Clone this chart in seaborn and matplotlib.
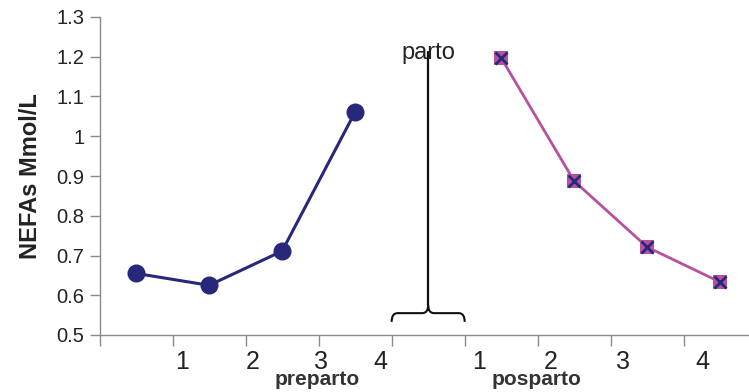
import matplotlib
matplotlib.use("Agg")
import matplotlib.pyplot as plt
from matplotlib.path import Path
from matplotlib.patches import PathPatch
import numpy as np
import pandas as pd
import seaborn as sns

# Weekly NEFA means around calving
preparto_weeks = [1, 2, 3, 4]
preparto_nefa = [0.655, 0.625, 0.711, 1.061]
posparto_weeks = [1, 2, 3, 4]
posparto_nefa = [1.197, 0.887, 0.721, 0.633]
week_labels = ["1", "2", "3", "4", "1", "2", "3", "4"]
y_ticks = [0.5, 0.6, 0.7, 0.8, 0.9, 1.0, 1.1, 1.2, 1.3]
y_tick_labels = ["0.5", "0.6", "0.7", "0.8", "0.9", "1", "1.1", "1.2", "1.3"]

NAVY = "#27287a"
PINK = "#b6509f"
SPINE = "#8a8a8a"

sns.set_theme(style="white")
plt.rcParams["font.family"] = ["Liberation Sans", "DejaVu Sans"]

# category slots: 0-3 preparto, 4 = calving gap, 5-8 posparto
pre_df = pd.DataFrame({"slot": [w - 1 for w in preparto_weeks], "nefa": preparto_nefa})
pos_df = pd.DataFrame({"slot": [w + 4 for w in posparto_weeks], "nefa": posparto_nefa})

fig = plt.figure(figsize=(7.49, 3.92), dpi=100)
ax = fig.add_axes([99.5 / 749, 57 / 392, 650 / 749, 318 / 392])

sns.lineplot(data=pre_df, x="slot", y="nefa", ax=ax, color=NAVY, linewidth=2.2,
             marker="o", markersize=13, markeredgecolor=NAVY, markeredgewidth=0)
sns.lineplot(data=pos_df, x="slot", y="nefa", ax=ax, color=PINK, linewidth=2.0,
             marker="s", markersize=10, markeredgecolor=PINK, markeredgewidth=0)
sns.scatterplot(data=pos_df, x="slot", y="nefa", ax=ax, marker="x", color=NAVY,
                s=75, linewidth=2.0, zorder=5)

ax.set_xlim(-0.5, 8.40)
ax.set_ylim(0.5, 1.3)

# slot boundaries carry the tick marks; week numbers sit beside them
ax.set_xticks(np.arange(-0.5, 8.0, 1.0))
ax.set_xticklabels([])
label_pos = [0.63, 1.60, 2.53, 3.34, 4.70, 5.68, 6.67, 7.75]
ax.set_xticks(label_pos, week_labels, minor=True)
ax.tick_params(axis="x", which="major", direction="out", length=8, width=1,
               color=SPINE, bottom=True)
ax.tick_params(axis="x", which="minor", length=0, pad=11, labelsize=18,
               labelcolor="#222222")

ax.set_yticks(y_ticks, y_tick_labels)
ax.tick_params(axis="y", direction="out", length=7, width=1, color=SPINE,
               left=True, labelsize=14.5, labelcolor="#222222", pad=4)

for side in ("top", "right"):
    ax.spines[side].set_visible(False)
for side in ("left", "bottom"):
    ax.spines[side].set_color(SPINE)
    ax.spines[side].set_linewidth(1)

ax.set_xlabel("")
ax.set_ylabel("NEFAs Mmol/L", fontsize=17, fontweight="bold", color="#222222")
ax.yaxis.set_label_coords(-0.088, 0.5)

# period names under the week numbers
ax.text(2.48, -0.14, "preparto", transform=ax.get_xaxis_transform(),
        ha="center", va="center", fontsize=15, fontweight="bold", color="#333333")
ax.text(5.49, -0.14, "posparto", transform=ax.get_xaxis_transform(),
        ha="center", va="center", fontsize=15, fontweight="bold", color="#333333")

# calving marker: brace over the gap slot with a line up to the label
x0, x1, xm = 3.5, 4.5, 4.0
y_end, y_bar, y_tip = 0.533, 0.555, 0.5755
verts = [
    (x0, y_end), (x0, y_bar), (x0 + 0.08, y_bar),
    (xm - 0.08, y_bar), (xm, y_bar), (xm, y_tip),
    (xm, y_bar), (xm + 0.08, y_bar),
    (x1 - 0.08, y_bar), (x1, y_bar), (x1, y_end),
]
codes = [
    Path.MOVETO, Path.CURVE3, Path.CURVE3,
    Path.LINETO, Path.CURVE3, Path.CURVE3,
    Path.CURVE3, Path.CURVE3,
    Path.LINETO, Path.CURVE3, Path.CURVE3,
]
ax.add_patch(PathPatch(Path(verts, codes), facecolor="none", edgecolor="#111111",
                       linewidth=1.5, clip_on=False))
ax.plot([xm, xm], [y_tip, 1.212], color="#111111", linewidth=1.6)
ax.text(xm, 1.195, "parto", ha="center", va="baseline", fontsize=17,
        color="#222222")

fig.savefig("out.png", dpi=100)
